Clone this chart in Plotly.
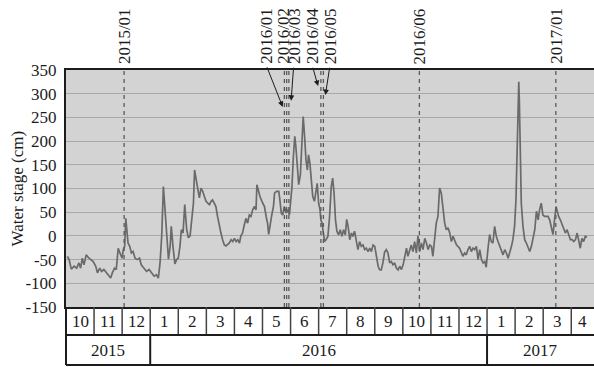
import plotly.graph_objects as go

# ---- Water stage record (cm); x = months elapsed since the start of the "10" column ----
seg1_month = [0.05, 0.11, 0.19, 0.29, 0.38, 0.46, 0.52, 0.58, 0.64, 0.72,
              0.82, 0.90, 0.97, 1.06, 1.12, 1.20, 1.27, 1.35, 1.44, 1.51,
              1.59, 1.65, 1.73, 1.79, 1.86, 1.92, 2.00, 2.04, 2.09, 2.13,
              2.16, 2.21, 2.27, 2.33, 2.39, 2.46, 2.54, 2.62, 2.68, 2.78,
              2.87, 2.96, 3.04, 3.14, 3.22, 3.29, 3.35, 3.41, 3.47, 3.53,
              3.59, 3.65, 3.71, 3.75, 3.81, 3.88, 3.94, 4.00, 4.06, 4.11,
              4.17, 4.23, 4.30, 4.36, 4.42, 4.48, 4.54, 4.58]
seg1_stage = [-43, -50, -70, -64, -68, -57, -68, -47, -61, -40,
              -47, -50, -54, -64, -78, -68, -75, -71, -78, -82,
              -89, -78, -68, -71, -26, -36, -47, -29, -22, 37,
              13, -15, -22, -36, -33, -47, -50, -47, -61, -68,
              -75, -71, -78, -85, -82, -89, -57, 0, 104, 48,
              -8, -49, -22, 20, -22, -59, -50, -47, -22, 13,
              6, 66, 13, -4, 0, 41, 69, 139]

seg2_month = [4.69, 4.75, 4.81, 4.87, 4.93, 4.99, 5.05, 5.11, 5.17, 5.22,
              5.28, 5.34, 5.40, 5.46, 5.52, 5.58, 5.64, 5.70, 5.76, 5.82,
              5.88, 5.94, 6.00, 6.06, 6.12, 6.18, 6.23, 6.29, 6.35, 6.41,
              6.47, 6.53, 6.59, 6.65, 6.71, 6.77, 6.80, 6.86, 6.91, 6.98,
              7.07, 7.13, 7.18, 7.22, 7.27, 7.33, 7.39, 7.43, 7.50, 7.58,
              7.62, 7.67, 7.72, 7.78, 7.84, 7.90, 7.96, 8.00, 8.05, 8.10,
              8.15, 8.19, 8.25, 8.29, 8.35, 8.41, 8.45, 8.50, 8.55, 8.60,
              8.64, 8.69, 8.74, 8.79, 8.85, 8.91, 8.95, 9.00, 9.05, 9.08,
              9.12, 9.17, 9.21, 9.26]
seg2_stage = [101, 80, 101, 94, 83, 73, 69, 66, 73, 76,
              69, 62, 41, 20, 6, -8, -19, -21, -17, -15,
              -8, -12, -5, -12, -8, -15, 0, 6, 23, 37,
              27, 44, 41, 55, 62, 55, 108, 90, 83, 73,
              62, 41, 27, 3, 27, 44, 62, 90, 94, 94,
              76, 48, 44, 62, 48, 55, 44, 69, 104, 167,
              210, 188, 139, 108, 129, 195, 252, 210, 160, 139,
              171, 153, 118, 83, 73, 94, 111, 69, 55, 34,
              27, 6, -12, -8]

seg3_month = [9.33, 9.39, 9.45, 9.50, 9.55, 9.60, 9.65, 9.71, 9.77, 9.83,
              9.89, 9.95, 10.00, 10.05, 10.11, 10.17, 10.22, 10.28, 10.34, 10.40,
              10.46, 10.52, 10.58, 10.64, 10.70, 10.76, 10.82, 10.88, 10.94, 11.00,
              11.06, 11.12, 11.17, 11.23, 11.29, 11.35, 11.41, 11.47, 11.53, 11.59,
              11.65, 11.71, 11.77, 11.83, 11.89, 11.95, 12.01, 12.07, 12.13, 12.18,
              12.24, 12.30, 12.36, 12.42, 12.48, 12.54, 12.60, 12.66, 12.72, 12.78,
              12.84, 12.90, 12.96, 13.02, 13.07, 13.13, 13.19, 13.25, 13.31, 13.37,
              13.43, 13.49, 13.55, 13.61, 13.67, 13.73, 13.79, 13.85, 13.91]
seg3_stage = [-1, 41, 104, 122, 90, 34, 10, 2, 13, -1,
              13, 2, 35, 20, -8, 6, -1, 10, -15, -29,
              -12, -22, -19, -29, -26, -33, -26, -33, -19, -22,
              -43, -64, -71, -72, -57, -34, -29, -36, -57, -54,
              -61, -57, -68, -72, -64, -71, -61, -43, -26, -43,
              -29, -19, -33, -12, -36, 0, -33, -15, -29, -5,
              -15, -29, -19, -22, -43, -8, 27, 41, 101, 90,
              62, 27, 13, 17, 6, -12, -1, -12, -19]

seg4_month = [14.02, 14.08, 14.14, 14.20, 14.26, 14.32, 14.38, 14.44, 14.50, 14.56,
              14.62, 14.68, 14.74, 14.80, 14.86, 14.92, 14.97, 15.03, 15.09, 15.15,
              15.21, 15.27, 15.33, 15.39, 15.45, 15.51, 15.57, 15.63, 15.69, 15.75,
              15.81, 15.87, 15.92, 15.98, 16.03, 16.07, 16.10, 16.13, 16.15, 16.19,
              16.22, 16.28, 16.34, 16.40, 16.46, 16.52, 16.58, 16.64, 16.70, 16.76,
              16.82, 16.87, 16.93, 16.99, 17.05, 17.11, 17.17, 17.23, 17.29, 17.35,
              17.41, 17.46, 17.50, 17.55, 17.61, 17.67, 17.73, 17.79, 17.85, 17.91,
              17.97, 18.03, 18.09, 18.15, 18.21, 18.26, 18.32, 18.38, 18.44, 18.50,
              18.56]
seg4_stage = [-26, -36, -43, -36, -40, -29, -22, -33, -26, -29,
              -22, -50, -29, -50, -57, -54, -66, -29, 3, -12,
              -15, 20, -1, -12, -22, -33, -40, -29, -36, -47,
              -36, -22, -8, 20, 76, 195, 294, 325, 287, 174,
              69, 20, -8, -15, -26, -33, -22, 0, 13, 52,
              34, 55, 69, 44, 41, 41, 41, 34, 20, 3,
              37, 62, 52, 41, 34, 24, 17, 6, 13, 0,
              -8, -8, -12, -8, 6, -8, -26, -5, -12, -1,
              -3]

# ---- Axis labels ----
month_labels = ["10", "11", "12", "1", "2", "3", "4", "5", "6", "7", "8", "9",
                "10", "11", "12", "1", "2", "3", "4"]
year_labels = ["2015", "2016", "2017"]
year_month_counts = [3, 12, 4]
y_ticks = [-150, -100, -50, 0, 50, 100, 150, 200, 250, 300, 350]
y_title = "Water stage (cm)"

# ---- Flood events (dashed markers) ----
event_names = ["2015/01", "2016/01", "2016/02", "2016/03", "2016/04",
               "2016/05", "2016/06", "2017/01"]
event_month = [2.07, 7.78, 7.86, 7.94, 9.08, 9.17, 12.59, 17.45]

months = seg1_month + seg2_month + seg3_month + seg4_month
stage = seg1_stage + seg2_stage + seg3_stage + seg4_stage

# ---- Layout geometry ----
W, H = 594, 367
M_L, M_R, M_T, M_B = 66, 0, 70, 60
PLOT_W = W - M_L - M_R
PLOT_H = H - M_T - M_B
X_MAX = 18.81
ROW1 = -28 / PLOT_H          # bottom of month row (paper units)
ROW2 = -58 / PLOT_H          # bottom of year row
TITLE_X = -49 / PLOT_W       # centre of the rotated y-axis title
FONT = "Times New Roman, Liberation Serif, Times, serif"
INK = "#1c1c1c"

# label placement for crowded event names, and arrow geometry (head -> tail)
label_month = [2.07, 7.12, 7.72, 8.12, 8.76, 9.41, 12.59, 17.45]
arrows = {  # name: (head_x, head_y, tail_x, tail_y)
    "2016/01": (7.72, 272, 7.14, 359),
    "2016/03": (8.02, 285, 8.11, 358),
    "2016/04": (8.98, 316, 8.78, 358),
    "2016/05": (9.24, 297, 9.40, 358),
}

fig = go.Figure()
fig.add_trace(go.Scatter(
    x=months, y=stage, mode="lines",
    line=dict(color="#6a6a6a", width=1.7),
    hoverinfo="skip",
))

shapes = []
# event markers
for m in event_month:
    shapes.append(dict(type="line", xref="x", yref="paper", x0=m, x1=m, y0=0, y1=1,
                       line=dict(color="#5a5a5a", width=1.3, dash="4px,4px"), layer="above"))

# month table under the plot
for k in range(1, len(month_labels)):
    shapes.append(dict(type="line", xref="x", yref="paper", x0=k, x1=k, y0=0, y1=ROW1,
                       line=dict(color="#444444", width=1.5)))
cum = 0
for n in year_month_counts[:-1]:
    cum += n
    shapes.append(dict(type="line", xref="x", yref="paper", x0=cum, x1=cum, y0=ROW1, y1=ROW2,
                       line=dict(color=INK, width=2)))
for yy in (ROW1, ROW2):
    shapes.append(dict(type="line", xref="paper", yref="paper", x0=0, x1=1, y0=yy, y1=yy,
                       line=dict(color=INK, width=2)))
shapes.append(dict(type="line", xref="paper", yref="paper", x0=0, x1=0, y0=0, y1=ROW2,
                   line=dict(color=INK, width=2)))

annotations = []
for k, lab in enumerate(month_labels):
    cx = k + 0.5 if k + 1 <= X_MAX else (k + X_MAX) / 2
    annotations.append(dict(text=lab, x=cx, y=ROW1 / 2, xref="x", yref="paper",
                            showarrow=False, xanchor="center", yanchor="middle",
                            font=dict(family=FONT, size=17, color=INK)))
start = 0
for lab, n in zip(year_labels, year_month_counts):
    end = min(start + n, X_MAX)
    annotations.append(dict(text=lab, x=(start + end) / 2, y=(ROW1 + ROW2) / 2,
                            xref="x", yref="paper", showarrow=False,
                            xanchor="center", yanchor="middle",
                            font=dict(family=FONT, size=17, color=INK)))
    start += n

for name, lx in zip(event_names, label_month):
    annotations.append(dict(text=name, x=lx, y=1, xref="x", yref="paper",
                            textangle=-90, showarrow=False, xanchor="center",
                            yanchor="bottom", yshift=4,
                            font=dict(family=FONT, size=17, color=INK)))
for name, (hx, hy, tx, ty) in arrows.items():
    annotations.append(dict(text="", x=hx, y=hy, xref="x", yref="y",
                            ax=tx, ay=ty, axref="x", ayref="y",
                            showarrow=True, arrowhead=2, arrowsize=1.1,
                            arrowwidth=1, arrowcolor=INK))

annotations.append(dict(text=y_title, x=TITLE_X, y=0.5, xref="paper", yref="paper",
                        textangle=-90, showarrow=False, xanchor="center",
                        yanchor="middle", font=dict(family=FONT, size=17, color=INK)))

fig.update_layout(
    width=W, height=H,
    margin=dict(l=M_L, r=M_R, t=M_T, b=M_B),
    paper_bgcolor="white", plot_bgcolor="#d3d3d3",
    font=dict(family=FONT, size=17, color=INK),
    showlegend=False,
    xaxis=dict(range=[0, X_MAX], showgrid=False, zeroline=False,
               showticklabels=False, ticks="", showline=True,
               linecolor=INK, linewidth=2, mirror=True, fixedrange=True),
    yaxis=dict(range=[-150, 350], tickvals=y_ticks, ticktext=[str(v) for v in y_ticks],
               showgrid=True, gridcolor="#a8a8a8", gridwidth=1, zeroline=False,
               showline=True, linecolor=INK, linewidth=2, ticks="",
               ticklabelstandoff=4, fixedrange=True),
    shapes=shapes,
    annotations=annotations,
)

fig.write_html("out.html", config={"displayModeBar": False})
